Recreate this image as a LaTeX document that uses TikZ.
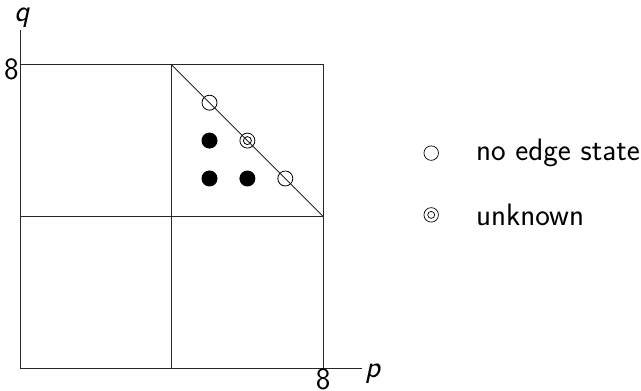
\documentclass[tikz,border=0pt]{standalone}
\begin{document}
\begin{tikzpicture}[x=37.9pt,y=37.9pt,
  ln/.style={line width=0.9pt,draw=black!85},
  opn/.style={circle,draw=black,line width=0.8pt,fill=white,inner sep=0pt,minimum size=15pt},
  dbl/.style={circle,draw=black,line width=0.8pt,inner sep=0pt,minimum size=8pt},
  fld/.style={circle,fill=black,inner sep=0pt,minimum size=16pt},
  lopn/.style={circle,draw=black,line width=0.7pt,inner sep=0pt,minimum size=14.5pt},
  ldbl/.style={circle,draw=black,line width=0.7pt,inner sep=0pt,minimum size=7pt},
  lbl/.style={font=\fontsize{31}{36}\selectfont\sffamily,inner sep=0pt}]
\useasboundingbox (-20pt,-23pt) rectangle (621pt,368pt);
\coordinate (O) at (0,0);
\coordinate (ytop) at (0,8.92);
\coordinate (xend) at (9.02,0);
\draw[ln] (O) -- (ytop);
\draw[ln] (O) -- (xend);
\draw[ln] (0,8) -- (8,8) -- (8,0);
\draw[ln] (4,0) -- (4,8);
\draw[ln] (0,4) -- (8,4);
\coordinate (d1) at (4,8);
\coordinate (d2) at (8,4);
\node[lbl,anchor=base] (q) at (0.05,9.14) {\itshape q};
\node[lbl,anchor=base west] (p) at (9.10,-0.24) {\itshape p};
\node[lbl,anchor=base east] (ly) at (-0.03,7.61) {8};
\node[lbl,anchor=base] (lx) at (8,-0.57) {8};
\node[fld] (f1) at (5,6) {};
\node[fld] (f2) at (5,5) {};
\node[fld] (f3) at (6,5) {};
\node[opn] (o1) at (5,7) {};
\node[opn] (o2) at (7,5) {};
\node[opn] (u1) at (6,6) {};
\node[dbl] (u2) at (6,6) {};
\draw[ln] (d1) -- (d2);
\node[lopn] (s1) at (10.85,5.67) {};
\node[lopn] (s2) at (10.85,4.04) {};
\node[ldbl] (s3) at (10.85,4.04) {};
\node[lbl,anchor=west] (t1) at (12.03,5.67) {no edge state};
\node[lbl,anchor=west] (t2) at (12.03,4.04) {unknown};
\end{tikzpicture}
\end{document}
